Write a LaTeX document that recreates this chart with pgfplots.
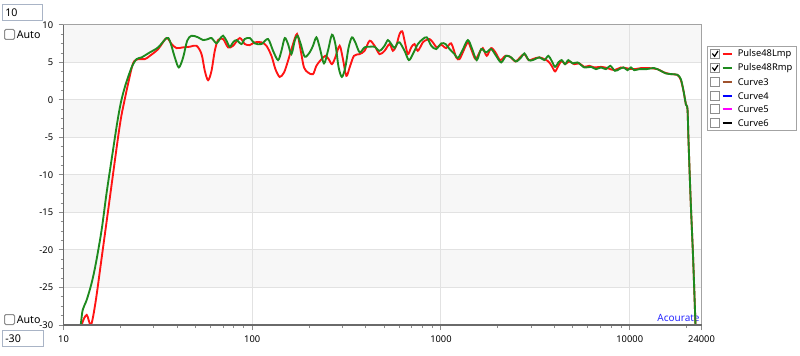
\documentclass[border=0pt]{standalone}
\usepackage{fontspec}
\setmainfont{Noto Sans}
\usepackage{pgfplots}
\usepackage{pgfplotstable}
\pgfplotsset{compat=1.18}

\definecolor{bandgray}{HTML}{F7F7F7}
\definecolor{gridgray}{HTML}{E2E2E2}
\definecolor{bordergray}{HTML}{A3A3A3}
\definecolor{axisdark}{HTML}{6A6A6A}
\definecolor{tickgray}{HTML}{8C8C8C}
\definecolor{curvered}{HTML}{FF1414}
\definecolor{curvegreen}{HTML}{1E8A1E}
\definecolor{curvebrown}{HTML}{A0522D}
\definecolor{curveblue}{HTML}{0000FF}
\definecolor{curvemagenta}{HTML}{FF00FF}
\definecolor{boxborder}{HTML}{A9B4C6}
\definecolor{cbborder}{HTML}{8E8E8E}
\definecolor{acoblue}{HTML}{2A2AFF}

\pgfplotstableread{
f dB
12.1 -33
12.49 -30.0
13.27 -28.66
13.98 -30.0
14.80 -26.88
15.93 -21.04
17.26 -14.62
19.26 -5.79
20.15 -2.44
20.90 -0.43
22.02 2.24
23.39 4.92
24.88 5.45
26.99 5.45
28.68 5.89
31.75 6.79
35.15 8.26
37.36 7.46
39.71 6.92
43.05 7.02
46.71 7.10
50.68 7.23
53.87 6.12
56.06 3.89
58.37 2.64
60.84 3.89
63.33 6.56
65.93 7.99
70.06 8.13
74.46 7.02
79.14 7.23
85.88 8.26
91.28 7.46
97.0 7.32
103.1 7.69
111.9 7.69
118.9 7.23
126.4 5.89
132.7 4.11
139.8 3.08
147.4 3.67
154.7 5.22
162.5 7.02
172.7 8.80
180.7 6.56
188.0 4.34
197.4 3.67
209.8 3.44
218.7 4.56
230.5 5.32
243.9 5.89
254.0 5.45
264.4 4.78
275.6 5.68
290.4 7.23
302.3 5.45
315.2 3.22
328.1 4.34
345.9 5.89
370.8 6.12
393.8 6.56
418.6 7.90
444.8 7.23
472.6 6.12
502.5 6.56
534.0 7.46
556.0 6.56
579.4 7.23
603.2 8.80
623.5 9.16
641.3 7.90
667.6 6.12
695.7 7.02
724.3 7.46
754.1 6.56
801.4 7.69
835.5 7.99
869.6 8.13
905.2 7.69
950.2 7.02
1003 7.36
1066 6.92
1133 7.55
1204 5.68
1253 5.45
1305 6.35
1387 7.69
1445 6.79
1523 5.45
1600 6.35
1665 6.92
1748 5.89
1844 6.92
1943 6.35
2058 5.32
2195 5.89
2324 5.76
2479 5.14
2625 5.68
2766 6.12
2915 5.32
3061 5.45
3322 5.68
3673 5.22
3857 4.56
4021 3.81
4187 4.56
4359 5.22
4543 4.78
4785 5.14
5086 4.78
5407 4.88
5744 4.42
6107 4.56
6490 4.34
7043 4.42
7629 4.25
8279 3.98
8982 4.34
9732 4.21
10560 4.11
11460 4.25
12690 4.25
14030 4.11
15220 3.67
16520 3.44
17900 3.35
18660 2.64
19270 1.21
19840 -0.57
20230 -1.24
20470 -5.25
21020 -13.28
21680 -21.30
22350 -30.7
}\redtab

\pgfplotstableread{
f dB
11.9 -33
12.34 -30.0
12.64 -27.99
13.27 -26.66
14.09 -24.42
14.85 -21.75
15.93 -17.29
16.92 -12.38
18.21 -7.03
19.26 -3.02
20.15 -0.30
21.28 1.97
22.95 4.34
24.38 5.45
25.92 5.68
28.68 6.35
31.75 7.02
35.15 8.26
36.59 7.90
38.89 5.68
40.84 4.34
43.05 5.68
45.20 7.90
47.70 8.57
51.69 8.35
54.93 7.99
58.37 8.13
60.84 8.26
64.68 7.55
67.31 8.13
70.06 8.57
73.03 7.90
76.02 7.10
79.14 7.69
82.50 7.99
87.67 7.46
91.28 8.13
97.0 8.26
103.1 7.55
111.9 7.46
121.2 8.13
128.9 6.56
137.0 5.32
142.8 6.56
148.7 8.26
154.7 7.46
161.3 6.12
167.9 7.90
173.6 8.57
180.7 7.46
189.7 5.76
201.5 6.35
209.8 7.23
218.7 8.35
227.6 7.02
239.9 4.88
251.8 6.56
264.4 8.70
275.6 7.46
286.9 4.34
298.6 3.08
311.2 4.34
324.1 7.02
337.4 8.35
351.6 7.69
370.8 6.35
393.8 7.02
418.6 7.10
444.8 7.10
472.6 6.56
502.5 7.23
523.1 7.99
545.2 7.46
567.6 6.92
583.8 7.46
603.2 7.69
641.3 6.56
675.7 5.32
709.5 6.12
754.1 7.46
801.4 8.13
841.7 8.35
888.1 7.23
943.3 6.79
1003 7.55
1057 7.46
1110 6.79
1179 6.12
1228 5.59
1296 6.56
1387 7.99
1463 6.79
1547 5.32
1632 6.79
1735 6.35
1844 6.79
1959 5.89
2083 5.01
2214 5.89
2352 5.68
2500 5.14
2658 5.68
2766 6.21
2915 5.32
3061 5.32
3322 5.68
3528 5.32
3705 5.89
3857 5.22
4021 4.42
4187 5.01
4359 5.32
4543 4.78
4727 5.32
4983 4.88
5297 5.01
5744 4.34
6237 4.42
6625 4.11
7043 4.34
7484 4.11
7884 4.56
8350 3.89
8797 4.11
9271 4.34
9732 3.98
10150 4.34
10560 3.98
11220 4.11
12180 4.11
13480 4.25
14610 3.89
15540 3.54
16840 3.44
17900 3.35
18660 2.78
19270 1.21
19840 -0.57
20230 -1.24
20470 -5.25
21020 -13.28
21680 -21.30
22350 -30.7
}\greentab

\begin{document}
\begin{tikzpicture}
\begin{scope}[x=0.75pt,y=-0.75pt]
\path[use as bounding box] (0,0) rectangle (800,356);
% top value box and checkbox
\draw[boxborder, line width=0.75pt, fill=white] (2.5,4.5) rectangle (42.5,20.5);
\node[anchor=west, inner sep=0, font=\fontsize{8}{9}\selectfont] at (5,12.5) {10};
\draw[cbborder, line width=0.75pt, rounded corners=1pt, fill=white] (4.5,29.5) rectangle (14.5,39.5);
\node[anchor=west, inner sep=0, font=\fontsize{8}{9}\selectfont] at (16.5,35) {Auto};
% bottom checkbox and value box
\draw[cbborder, line width=0.75pt, rounded corners=1pt, fill=white] (4.5,314.5) rectangle (14.5,324.5);
\node[anchor=west, inner sep=0, font=\fontsize{8}{9}\selectfont] at (16.5,320) {Auto};
\draw[boxborder, line width=0.75pt, fill=white] (2.5,330.5) rectangle (43.5,346.5);
\node[anchor=west, inner sep=0, font=\fontsize{8}{9}\selectfont] at (5,338.5) {-30};
% legend
\draw[bordergray, line width=0.75pt, fill=white] (707.5,46.5) rectangle (796.5,130.5);
\foreach \yy/\col/\nm/\chk in {54/curvered/Pulse48Lmp/1, 68/curvegreen/Pulse48Rmp/1, 82/curvebrown/Curve3/0, 96/curveblue/Curve4/0, 109/curvemagenta/Curve5/0, 123/black/Curve6/0}{
  \draw[cbborder, line width=0.75pt, fill=white] (710.5,\yy-4.5) rectangle (719.5,\yy+4.5);
  \ifnum\chk=1
    \draw[black, line width=0.9pt] (712.3,\yy-0.5) -- (714.6,\yy+2.3) -- (718,\yy-3);
  \fi
  \draw[\col, line width=1.5pt] (722.5,\yy) -- (732,\yy);
  \node[anchor=west, inner sep=0, font=\fontsize{7}{9}\selectfont] at (737.5,\yy) {\nm};
}
% watermark
\node[inner sep=0, font=\fontsize{7.5}{9}\selectfont, text=acoblue] at (678.5,318) {Acourate};
\end{scope}

\begin{axis}[
  at={(47.625pt,-243.75pt)}, anchor=south west,
  scale only axis, width=478.5pt, height=225pt,
  set layers,
  xmode=log, xmin=10, xmax=24000, ymin=-30, ymax=10,
  xtick={10,100,1000,10000,24000},
  xticklabels={10,100,1000,10000,24000},
  minor xtick={20,30,40,50,60,70,80,90,200,300,400,500,600,700,800,900,2000,3000,4000,5000,6000,7000,8000,9000,20000},
  ytick={-30,-25,-20,-15,-10,-5,0,5,10},
  yticklabels={-30,-25,-20,-15,-10,-5,0,5,10},
  minor y tick num=3,
  tick pos=left, tick align=outside,
  major tick length=3.75pt, minor tick length=2.25pt,
  every tick/.style={tickgray, line width=0.75pt},
  grid=major,
  major grid style={gridgray, line width=0.75pt},
  axis line style={bordergray, line width=0.75pt},
  tick label style={font=\fontsize{7}{8}\selectfont, text=black},
  /pgf/number format/assume math mode=true,
  xticklabel style={yshift=-1pt},
  yticklabel style={xshift=-0.5pt},
]
\begin{pgfonlayer}{axis background}
\fill[bandgray] (axis cs:10,5) rectangle (axis cs:24000,10);
\fill[bandgray] (axis cs:10,-5) rectangle (axis cs:24000,0);
\fill[bandgray] (axis cs:10,-15) rectangle (axis cs:24000,-10);
\fill[bandgray] (axis cs:10,-25) rectangle (axis cs:24000,-20);
\end{pgfonlayer}
\addplot[curvered, line width=1.4pt, smooth, tension=0.5] table[x=f, y=dB] {\redtab};
\addplot[curvegreen, line width=1.4pt, smooth, tension=0.5] table[x=f, y=dB] {\greentab};
\begin{pgfonlayer}{axis foreground}
\draw[axisdark, line width=0.9pt] (rel axis cs:0,1) -- (rel axis cs:0,0) -- (rel axis cs:1,0);
\end{pgfonlayer}
\end{axis}
\end{tikzpicture}
\end{document}
